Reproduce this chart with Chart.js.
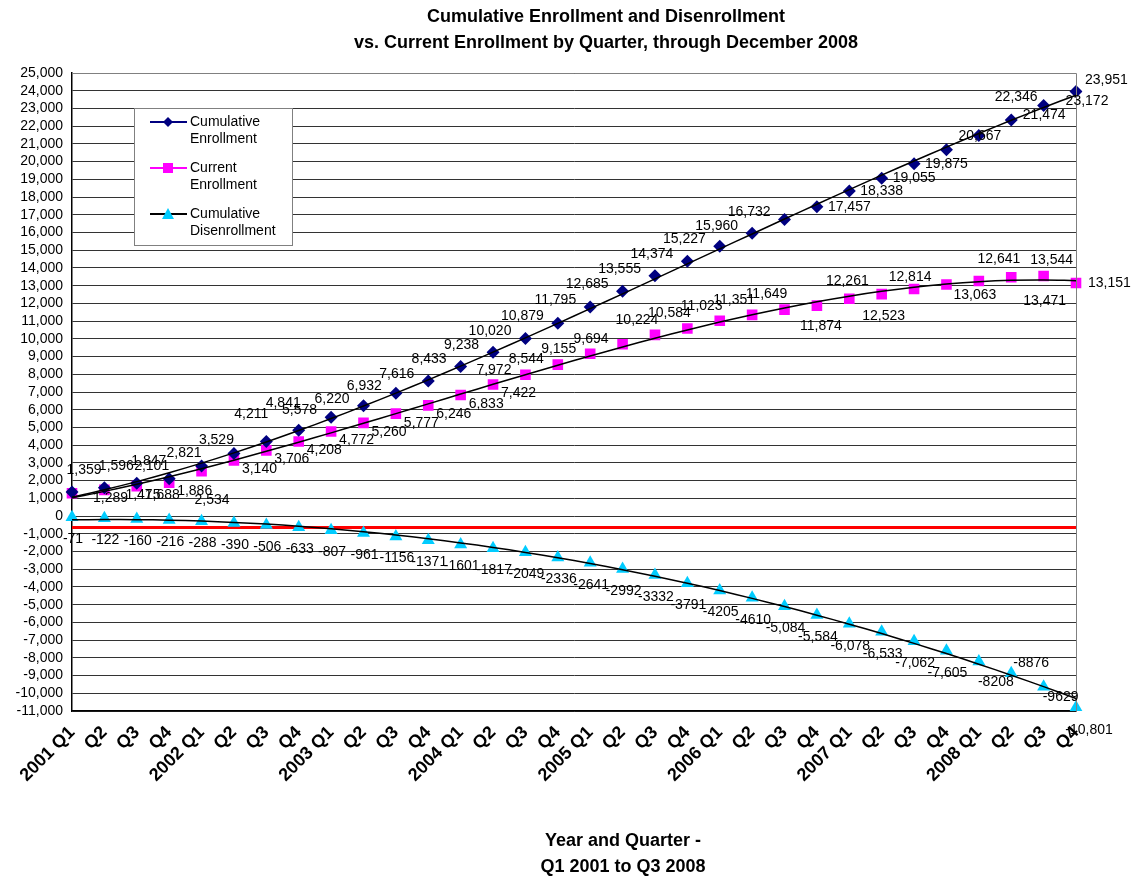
<!DOCTYPE html>
<html>
<head>
<meta charset="utf-8">
<title>Cumulative Enrollment and Disenrollment</title>
<script src="https://cdn.jsdelivr.net/npm/chart.js@4.4.1/dist/chart.umd.min.js"></script>
<style>
  html, body { margin: 0; padding: 0; background: #fff; }
  #wrap { width: 1136px; height: 882px; }
</style>
</head>
<body>
<div id="wrap"><canvas id="chart" width="1136" height="882"></canvas></div>
<script>
// quarters 2001 Q1 .. 2008 Q4
const quarters = [
  "2001 Q1", "Q2", "Q3", "Q4", "2002 Q1", "Q2", "Q3", "Q4",
  "2003 Q1", "Q2", "Q3", "Q4", "2004 Q1", "Q2", "Q3", "Q4",
  "2005 Q1", "Q2", "Q3", "Q4", "2006 Q1", "Q2", "Q3", "Q4",
  "2007 Q1", "Q2", "Q3", "Q4", "2008 Q1", "Q2", "Q3", "Q4",
];
const cumulativeEnrollment = [
  1359, 1596, 1847, 2101, 2821, 3529, 4211, 4841,
  5578, 6220, 6932, 7616, 8433, 9238, 10020, 10879,
  11795, 12685, 13555, 14374, 15227, 15960, 16732, 17457,
  18338, 19055, 19875, 20667, 21474, 22346, 23172, 23951,
];
const currentEnrollment = [
  1289, 1475, 1688, 1886, 2534, 3140, 3706, 4208,
  4772, 5260, 5777, 6246, 6833, 7422, 7972, 8544,
  9155, 9694, 10224, 10584, 11023, 11351, 11649, 11874,
  12261, 12523, 12814, 13063, 13266, 13471, 13544, 13151,
];
const cumulativeDisenrollment = [
  -71, -122, -160, -216, -288, -390, -506, -633,
  -807, -961, -1156, -1371, -1601, -1817, -2049, -2336,
  -2641, -2992, -3332, -3791, -4205, -4610, -5084, -5584,
  -6078, -6533, -7062, -7605, -8208, -8876, -9629, -10801,
];
// label text shown in the picture where it differs from the plotted value
const currentLabelText = { 28: "12,641" };
const referenceLine = -650;
const yMin = -11000, yMax = 25000;

const FONT = '"Liberation Sans", Arial, sans-serif';

// least squares polynomial trendline (like the spreadsheet's trendline)
function polyTrend(ys, order) {
  const n = ys.length, m = order + 1;
  const A = [];
  for (let r = 0; r < m; r++) {
    A.push(new Array(m + 1).fill(0));
  }
  for (let i = 0; i < n; i++) {
    const x = i + 1;
    for (let r = 0; r < m; r++) {
      for (let c = 0; c < m; c++) A[r][c] += Math.pow(x, r + c);
      A[r][m] += ys[i] * Math.pow(x, r);
    }
  }
  for (let p = 0; p < m; p++) {
    for (let r = p + 1; r < m; r++) {
      const f = A[r][p] / A[p][p];
      for (let c = p; c <= m; c++) A[r][c] -= f * A[p][c];
    }
  }
  const coef = new Array(m).fill(0);
  for (let r = m - 1; r >= 0; r--) {
    let s = A[r][m];
    for (let c = r + 1; c < m; c++) s -= A[r][c] * coef[c];
    coef[r] = s / A[r][r];
  }
  return ys.map((_, i) => coef.reduce((acc, k, j) => acc + k * Math.pow(i + 1, j), 0));
}

function fmt(v) {
  return v.toLocaleString("en-US");
}

// where each series puts its value labels
function cumPlace(i) {
  if (i <= 2) return { dx: 12, dy: -22, align: "center" };
  if (i <= 5) return { dx: 0, dy: -13, align: "right" };
  if (i <= 7) return { dx: 2, dy: -27, align: "right" };
  if (i <= 22) return { dx: -14, dy: -7, align: "right" };
  if (i === 27) return { dx: 12, dy: -14, align: "left" };
  if (i === 28) return { dx: 44, dy: -20, align: "left" };
  if (i === 29) return { dx: 5, dy: -23, align: "center" };
  if (i === 30) return { dx: 22, dy: -4, align: "left" };
  if (i === 31) return { dx: 9, dy: -11, align: "left" };
  return { dx: 11, dy: 0, align: "left" };
}
function curPlace(i) {
  if (i <= 1) return { dx: 21, dy: 5, align: "left" };
  if (i === 4) return { dx: -7, dy: 29, align: "left" };
  if (i <= 13) return { dx: 8, dy: 9, align: "left" };
  if (i <= 17) return { dx: -14, dy: -5, align: "right" };
  if (i <= 22) return { dx: -18, dy: -15, align: "center" };
  if (i === 31) return { dx: 12, dy: 0, align: "left" };
  if (i === 27) return { dx: 7, dy: 11, align: "left" };
  if (i === 29) return { dx: 12, dy: 24, align: "left" };
  const below = { 23: [4, 21], 25: [2, 22] };
  const above = { 24: [-2, -18], 26: [-4, -12], 28: [20, -22], 30: [8, -16] };
  const p = below[i] || above[i];
  return { dx: p[0], dy: p[1], align: "center" };
}
function disPlace(i) {
  if (i === 28) return { dx: 17, dy: 21, align: "center" };
  if (i === 29) return { dx: 20, dy: -10, align: "center" };
  if (i === 30) return { dx: 17, dy: 10, align: "center" };
  if (i === 31) return { dx: 13, dy: 23, align: "center" };
  return { dx: 1, dy: 22, align: "center" };
}
function disText(i) {
  const v = cumulativeDisenrollment[i];
  if ((i >= 22 && i <= 27) || i === 31) return fmt(v);
  return String(v);
}

const labelSets = [
  { data: cumulativeEnrollment, place: cumPlace, text: (i) => fmt(cumulativeEnrollment[i]) },
  { data: currentEnrollment, place: curPlace, text: (i) => currentLabelText[i] || fmt(currentEnrollment[i]) },
  { data: cumulativeDisenrollment, place: disPlace, text: disText },
];

const extrasPlugin = {
  id: "extras",
  beforeDatasetsDraw(chart) {
    const { ctx, chartArea, scales } = chart;
    const y = scales.y.getPixelForValue(referenceLine);
    ctx.save();
    ctx.strokeStyle = "#ff0000";
    ctx.lineWidth = 3;
    ctx.beginPath();
    ctx.moveTo(chartArea.left, y);
    ctx.lineTo(chartArea.right, y);
    ctx.stroke();
    ctx.restore();
  },
  afterDatasetsDraw(chart) {
    const { ctx, chartArea } = chart;
    ctx.save();
    // plot frame
    ctx.strokeStyle = "#808080";
    ctx.lineWidth = 1;
    ctx.beginPath();
    ctx.moveTo(chartArea.left, chartArea.top + 0.5);
    ctx.lineTo(chartArea.right + 0.5, chartArea.top + 0.5);
    ctx.lineTo(chartArea.right + 0.5, chartArea.bottom);
    ctx.stroke();

    // value labels
    ctx.font = "14px " + FONT;
    ctx.fillStyle = "#000";
    ctx.textBaseline = "middle";
    labelSets.forEach((set, d) => {
      const meta = chart.getDatasetMeta(d);
      meta.data.forEach((pt, i) => {
        const p = set.place(i);
        ctx.textAlign = p.align;
        ctx.fillText(set.text(i), pt.x + p.dx, pt.y + p.dy);
      });
    });

    // titles
    ctx.font = "bold 18px " + FONT;
    ctx.textAlign = "center";
    ctx.fillText("Cumulative Enrollment and Disenrollment", 606, 17);
    ctx.fillText("vs. Current Enrollment by Quarter, through December 2008", 606, 43);
    ctx.fillText("Year and Quarter -", 623, 841);
    ctx.fillText("Q1 2001 to Q3 2008", 623, 867);

    // legend
    ctx.fillStyle = "#fff";
    ctx.fillRect(134.5, 108.5, 158, 137);
    ctx.strokeStyle = "#808080";
    ctx.strokeRect(134.5, 108.5, 158, 137);
    const items = [
      { lines: ["Cumulative", "Enrollment"], color: "#000080", marker: "diamond", fill: "#000080" },
      { lines: ["Current", "Enrollment"], color: "#ff00ff", marker: "square", fill: "#ff00ff" },
      { lines: ["Cumulative", "Disenrollment"], color: "#000000", marker: "triangle", fill: "#00ccff" },
    ];
    items.forEach((it, k) => {
      const my = 122 + k * 46;
      ctx.strokeStyle = it.color;
      ctx.lineWidth = 2;
      ctx.beginPath();
      ctx.moveTo(150, my);
      ctx.lineTo(187, my);
      ctx.stroke();
      ctx.fillStyle = it.fill;
      ctx.beginPath();
      if (it.marker === "diamond") {
        ctx.moveTo(168, my - 5); ctx.lineTo(173, my); ctx.lineTo(168, my + 5); ctx.lineTo(163, my);
      } else if (it.marker === "square") {
        ctx.rect(163, my - 5, 10, 10);
      } else {
        ctx.moveTo(168, my - 6); ctx.lineTo(174, my + 5); ctx.lineTo(162, my + 5);
      }
      ctx.closePath();
      ctx.fill();
      ctx.fillStyle = "#000";
      ctx.font = "14px " + FONT;
      ctx.textAlign = "left";
      ctx.fillText(it.lines[0], 190, my);
      ctx.fillText(it.lines[1], 190, my + 17);
    });
    ctx.restore();
  },
};

new Chart(document.getElementById("chart"), {
  type: "line",
  data: {
    labels: quarters,
    datasets: [
      {
        label: "Cumulative Enrollment",
        data: cumulativeEnrollment,
        showLine: false,
        pointStyle: "rectRot",
        pointRadius: 6.5,
        backgroundColor: "#000080",
        borderColor: "#000080",
        borderWidth: 0,
        order: 2,
      },
      {
        label: "Current Enrollment",
        data: currentEnrollment,
        showLine: false,
        pointStyle: "rect",
        pointRadius: 7.5,
        backgroundColor: "#ff00ff",
        borderColor: "#ff00ff",
        borderWidth: 0,
        order: 3,
      },
      {
        label: "Cumulative Disenrollment",
        data: cumulativeDisenrollment,
        showLine: false,
        pointStyle: "triangle",
        pointRadius: 7.5,
        backgroundColor: "#00ccff",
        borderColor: "#00ccff",
        borderWidth: 0,
        order: 4,
      },
      { label: "trend1", data: polyTrend(cumulativeEnrollment, 3), borderColor: "#000", borderWidth: 1.5, pointRadius: 0, tension: 0.4, order: 1 },
      { label: "trend2", data: polyTrend(currentEnrollment, 3), borderColor: "#000", borderWidth: 1.5, pointRadius: 0, tension: 0.4, order: 1 },
      { label: "trend3", data: polyTrend(cumulativeDisenrollment, 2), borderColor: "#000", borderWidth: 1.5, pointRadius: 0, tension: 0.4, order: 1 },
    ],
  },
  options: {
    responsive: false,
    animation: false,
    events: [],
    layout: { padding: { top: 73, right: 60, left: 0, bottom: 0 } },
    plugins: {
      legend: { display: false },
      title: { display: false },
      tooltip: { enabled: false },
    },
    scales: {
      x: {
        offset: false,
        grid: { display: false },
        border: { display: true, color: "#000", width: 1.5 },
        ticks: {
          autoSkip: false,
          minRotation: 45,
          maxRotation: 45,
          padding: 3,
          color: "#000",
          font: { family: FONT, size: 18, weight: "bold" },
        },
        afterFit(scale) { scale.height = 171; },
      },
      y: {
        min: yMin,
        max: yMax,
        grid: { color: "#333", lineWidth: 1, drawTicks: false },
        border: { display: true, color: "#000", width: 1.5 },
        ticks: {
          stepSize: 1000,
          autoSkip: false,
          padding: 9,
          color: "#000",
          font: { family: FONT, size: 14 },
          callback: (v) => fmt(v),
        },
        afterFit(scale) { scale.width = 72; },
      },
    },
  },
  plugins: [extrasPlugin],
});
</script>
</body>
</html>
